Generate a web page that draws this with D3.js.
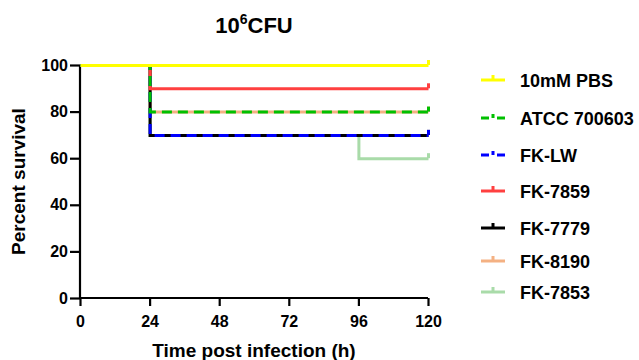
<!DOCTYPE html>
<html>
<head>
<meta charset="utf-8">
<script src="https://cdn.jsdelivr.net/npm/d3@7"></script>
<style>
  body { margin: 0; background: #fff; }
  svg text { font-family: "Liberation Sans", Arial, sans-serif; font-weight: bold; fill: #000; }
</style>
</head>
<body>
<div id="chart"></div>
<script>
// survival curves (time in hours, percent surviving)
const seriesNames = ['10mM PBS', 'ATCC 700603', 'FK-LW', 'FK-7859', 'FK-7779', 'FK-8190', 'FK-7853'];
const seriesColors = ['#ffff00', '#00c000', '#0000ff', '#ff4040', '#000000', '#f4b183', '#a9dba9'];
const seriesDashed = [false, true, true, false, false, false, false];
const seriesTimes = [
  [0, 120],
  [0, 24, 120],
  [0, 24, 120],
  [0, 24, 120],
  [0, 24, 120],
  [0, 24, 120],
  [0, 24, 96, 120]
];
const seriesValues = [
  [100, 100],
  [100, 80, 80],
  [100, 70, 70],
  [100, 90, 90],
  [100, 70, 70],
  [100, 80, 80],
  [100, 70, 60, 60]
];
const xTicks = [0, 24, 48, 72, 96, 120];
const yTicks = [0, 20, 40, 60, 80, 100];
// order the lines get painted in (later = on top)
const drawOrder = [6, 5, 4, 3, 2, 1, 0];

const W = 639, H = 360;
const margin = {left: 80, right: 211, top: 65, bottom: 62};

const svg = d3.select('#chart').append('svg')
  .attr('width', W).attr('height', H);

const x = d3.scaleLinear().domain([0, 120]).range([margin.left, W - margin.right]);
const y = d3.scaleLinear().domain([0, 100]).range([H - margin.bottom, margin.top]);

// title
const title = svg.append('text').attr('x', 254).attr('y', 33)
  .attr('text-anchor', 'middle').style('font-size', '22px');
title.append('tspan').text('10');
title.append('tspan').attr('dy', -9).style('font-size', '14px').text('6');
title.append('tspan').attr('dy', 9).text('CFU');

// axes
const xAxis = svg.append('g')
  .attr('transform', 'translate(0,' + (H - margin.bottom) + ')')
  .call(d3.axisBottom(x).tickValues(xTicks).tickSize(8).tickPadding(10));
const yAxis = svg.append('g')
  .attr('transform', 'translate(' + margin.left + ',0)')
  .call(d3.axisLeft(y).tickValues(yTicks).tickSize(10).tickPadding(2));

[xAxis, yAxis].forEach(a => {
  a.select('.domain').attr('stroke', '#000').attr('stroke-width', 2.2);
  a.selectAll('.tick line').attr('stroke', '#000').attr('stroke-width', 2.2);
  a.selectAll('.tick text').style('font-size', '16px')
    .style('font-family', '"Liberation Sans", Arial, sans-serif').style('font-weight', 'bold');
});
// keep the axis lines flat, without outer ticks
xAxis.select('.domain').attr('d', 'M' + x(0) + ',0H' + x(120));
yAxis.select('.domain').attr('d', 'M0,' + y(0) + 'V' + y(100));

svg.append('text').attr('x', (x(0) + x(120)) / 2).attr('y', 357)
  .attr('text-anchor', 'middle').style('font-size', '19px')
  .text('Time post infection (h)');
svg.append('text')
  .attr('transform', 'translate(25,' + ((y(0) + y(100)) / 2) + ') rotate(-90)')
  .attr('text-anchor', 'middle').style('font-size', '19px')
  .text('Percent survival');

// curves
const line = d3.line()
  .x(d => x(d[0]))
  .y(d => y(d[1]))
  .curve(d3.curveStepAfter);

// half-pixel shift so overlapping horizontals land on whole pixels
const plot = svg.append('g').attr('transform', 'translate(0.5,0.5)');
drawOrder.forEach(i => {
  const pts = seriesTimes[i].map((t, j) => [t, seriesValues[i][j]]);
  plot.append('path')
    .attr('d', line(pts))
    .attr('fill', 'none')
    .attr('stroke', seriesColors[i])
    .attr('stroke-width', 3)
    .attr('stroke-dasharray', seriesDashed[i] ? '10,6' : null);
  // censor tick at the end
  const last = pts[pts.length - 1];
  plot.append('rect')
    .attr('x', x(last[0]) - 1.5)
    .attr('y', y(last[1]) - 5.5)
    .attr('width', 3).attr('height', 5)
    .attr('fill', seriesColors[i]);
});

// legend
const legendY = [80, 118, 155, 191, 228, 261, 292];
const legend = svg.append('g');
seriesNames.forEach((name, i) => {
  const g = legend.append('g').attr('transform', 'translate(0,' + legendY[i] + ')');
  if (seriesDashed[i]) {
    g.append('line').attr('x1', 481).attr('x2', 489).attr('y1', 0).attr('y2', 0)
      .attr('stroke', seriesColors[i]).attr('stroke-width', 3);
    g.append('line').attr('x1', 497).attr('x2', 505).attr('y1', 0).attr('y2', 0)
      .attr('stroke', seriesColors[i]).attr('stroke-width', 3);
    g.append('rect').attr('x', 491.5).attr('y', -4).attr('width', 3).attr('height', 4)
      .attr('fill', seriesColors[i]);
  } else {
    g.append('line').attr('x1', 481).attr('x2', 505).attr('y1', 0).attr('y2', 0)
      .attr('stroke', seriesColors[i]).attr('stroke-width', 3);
    g.append('rect').attr('x', 491.5).attr('y', -5).attr('width', 3).attr('height', 5)
      .attr('fill', seriesColors[i]);
  }
  g.append('text').attr('x', 520).attr('y', 7).style('font-size', '18px').text(name);
});
</script>
</body>
</html>
